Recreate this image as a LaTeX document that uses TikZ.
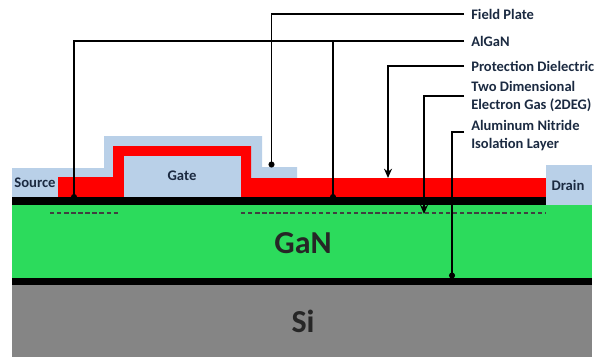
\documentclass[tikz,border=0pt]{standalone}
\usepackage{fontspec}
\setmainfont{Carlito}
\usetikzlibrary{arrows.meta}
\definecolor{ganGreen}{HTML}{2CDB5C}
\definecolor{siGray}{HTML}{858585}
\definecolor{plateBlue}{HTML}{B9D0E8}
\definecolor{inkDark}{HTML}{1B2A41}
\tikzset{
  leader/.style={line width=1.1pt, black},
  dotend/.style={leader, -{Circle[length=4.5pt]}},
  arrowend/.style={leader, -{Stealth[length=7pt, width=6pt]}},
  gasline/.style={line width=1.3pt, black!75, dash pattern=on 3.3pt off 2pt},
  lbl/.style={anchor=west, align=left, inner sep=5.25pt, font=\fontsize{10.9}{13.5}\selectfont\bfseries, text=inkDark},
  tag/.style={font=\fontsize{11}{12}\selectfont\bfseries, text=inkDark, inner sep=0pt},
  big/.style={font=\fontsize{24}{26}\selectfont\bfseries, text=black!85, inner sep=0pt}
}

\begin{document}
\begin{tikzpicture}[x=0.75pt, y=-0.75pt]
  \useasboundingbox (0,0) rectangle (602,357);
  % layers, bottom up
  \fill[siGray] (12,285) rectangle (592,357);
  \fill[black] (12,278) rectangle (592,285);
  \fill[ganGreen] (12,205) rectangle (592,278);
  \fill[plateBlue] (12,197) -- (12,168) -- (104,168) -- (104,136) -- (262,136)
    -- (262,167) -- (297,167) -- (297,197) -- cycle;
  \fill[red] (58,197) -- (58,177) -- (113,177) -- (113,146) -- (251,146)
    -- (251,178) -- (546,178) -- (546,197) -- cycle;
  \fill[plateBlue] (123.5,156) rectangle (241,197);
  \fill[plateBlue] (546,165) rectangle (592,205);
  % 2DEG
  \draw[gasline] (50,213) -- (120,213);
  \draw[gasline] (241,213) -- (546,213);

  \node[tag] (source) at (35,182.5) {Source};
  \node[tag] (gate) at (182,176) {Gate};
  \node[tag] (drain) at (568,185) {Drain};
  \node[big] (gan) at (303,243) {GaN};
  \node[big] (si) at (303,321) {Si};

  \node[lbl] (fieldplate) at (464,14) {Field Plate};
  \node[lbl] (algan) at (464,41) {AlGaN};
  \node[lbl] (dielectric) at (464,66) {Protection Dielectric};
  \node[lbl] (twodeg) at (464,96) {Two Dimensional\\Electron Gas (2DEG)};
  \node[lbl] (aln) at (464,136) {Aluminum Nitride\\Isolation Layer};

  \coordinate (platedot) at (271.5,167.5);
  \coordinate (algandotl) at (74,200);
  \coordinate (algandotr) at (333,200);
  \coordinate (alganbranch) at (333,41);
  \coordinate (dielectrictip) at (388,178);
  \coordinate (twodegtip) at (424,214);
  \coordinate (alndot) at (452,278.5);

  \draw[dotend] (fieldplate.west) -| (platedot);
  \draw[dotend] (algan.west) -| (algandotl);
  \draw[dotend] (alganbranch) -- (algandotr);
  \draw[arrowend] (dielectric.west) -| (dielectrictip);
  \draw[arrowend] (twodeg.west) -| (twodegtip);
  \draw[dotend] ([yshift=3pt]aln.west) -| (alndot);
  % black band goes over the dots
  \fill[black] (12,197) rectangle (546,205);
\end{tikzpicture}
\end{document}
